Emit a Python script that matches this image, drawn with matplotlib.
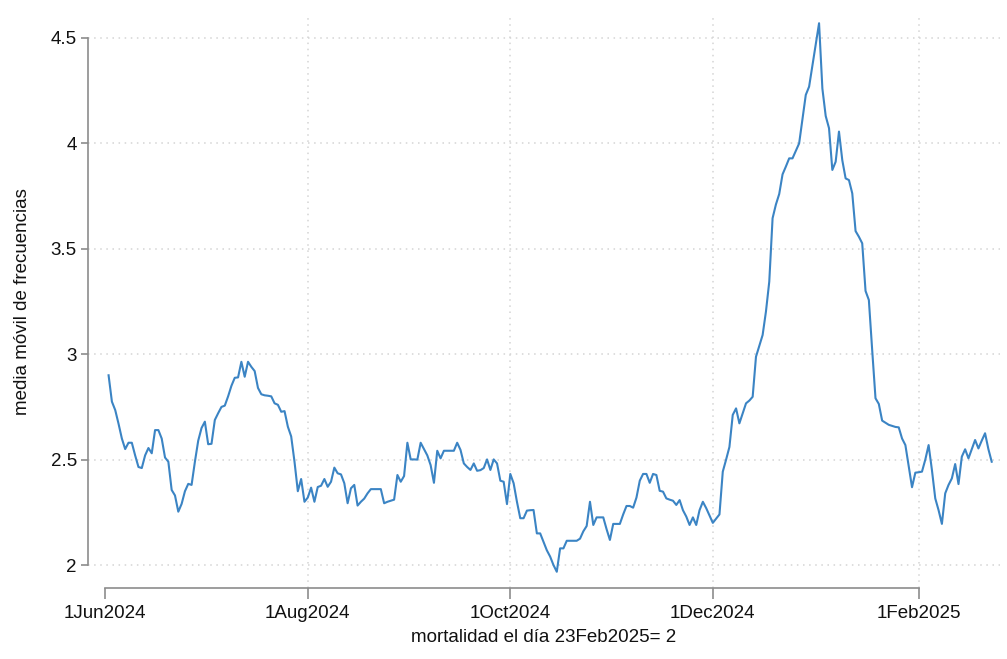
import matplotlib
matplotlib.use("Agg")
import matplotlib.pyplot as plt
import matplotlib.dates as mdates
import numpy as np
import pandas as pd

start_date = "2024-06-02"
end_date = "2025-02-23"

media_movil = [
    2.90, 2.775, 2.735, 2.67, 2.60, 2.55, 2.58, 2.58, 2.52, 2.465,
    2.46, 2.52, 2.555, 2.53, 2.64, 2.64, 2.60, 2.51, 2.49, 2.356,
    2.33, 2.253, 2.29, 2.35, 2.385, 2.38, 2.49, 2.59, 2.65, 2.68,
    2.573, 2.575, 2.688, 2.72, 2.75, 2.756, 2.80, 2.85, 2.888, 2.89,
    2.964, 2.893, 2.964, 2.94, 2.92, 2.84, 2.81, 2.805, 2.803, 2.80,
    2.767, 2.76, 2.727, 2.73, 2.656, 2.61, 2.49, 2.35, 2.408, 2.30,
    2.32, 2.367, 2.30, 2.37, 2.376, 2.408, 2.371, 2.395, 2.462, 2.435,
    2.43, 2.388, 2.293, 2.364, 2.38, 2.282, 2.30, 2.315, 2.34, 2.36,
    2.36, 2.36, 2.36, 2.293, 2.30, 2.305, 2.31, 2.427, 2.395, 2.422,
    2.58, 2.501, 2.501, 2.50, 2.58, 2.55, 2.52, 2.474, 2.39, 2.542,
    2.506, 2.542, 2.542, 2.542, 2.542, 2.58, 2.546, 2.482, 2.465, 2.451,
    2.482, 2.447, 2.45, 2.46, 2.501, 2.451, 2.501, 2.482, 2.40, 2.395,
    2.289, 2.432, 2.388, 2.30, 2.222, 2.222, 2.258, 2.26, 2.261, 2.15,
    2.15, 2.11, 2.07, 2.04, 2.00, 1.968, 2.079, 2.079, 2.115, 2.115,
    2.115, 2.115, 2.125, 2.16, 2.185, 2.30, 2.19, 2.226, 2.226, 2.226,
    2.17, 2.119, 2.195, 2.195, 2.195, 2.24, 2.28, 2.28, 2.272, 2.32,
    2.40, 2.432, 2.432, 2.39, 2.432, 2.427, 2.352, 2.348, 2.316, 2.31,
    2.305, 2.285, 2.308, 2.26, 2.23, 2.19, 2.226, 2.19, 2.26, 2.30,
    2.27, 2.235, 2.20, 2.22, 2.24, 2.443, 2.50, 2.56, 2.712, 2.743,
    2.672, 2.72, 2.767, 2.78, 2.798, 2.988, 3.04, 3.091, 3.202, 3.344,
    3.645, 3.71, 3.76, 3.853, 3.89, 3.929, 3.929, 3.965, 4.0, 4.115,
    4.23, 4.269, 4.37, 4.47, 4.57, 4.26, 4.13, 4.072, 3.874, 3.913,
    4.056, 3.92, 3.834, 3.826, 3.763, 3.584, 3.557, 3.526, 3.30, 3.257,
    3.02, 2.791, 2.764, 2.685, 2.675, 2.665, 2.66, 2.655, 2.653, 2.60,
    2.569, 2.47, 2.369, 2.438, 2.44, 2.443, 2.50, 2.569, 2.45, 2.316,
    2.26, 2.195, 2.34, 2.38, 2.411, 2.479, 2.384, 2.514, 2.549, 2.506,
    2.55, 2.593, 2.553, 2.59, 2.625, 2.55, 2.49,
]

x_ticks = ["2024-06-01", "2024-08-01", "2024-10-01", "2024-12-01", "2025-02-01"]
x_tick_labels = ["1Jun2024", "1Aug2024", "1Oct2024", "1Dec2024", "1Feb2025"]
y_ticks = [2, 2.5, 3, 3.5, 4, 4.5]
y_tick_labels = ["2", "2.5", "3", "3.5", "4", "4.5"]

y_label = "media móvil de frecuencias"
x_label = "mortalidad el día 23Feb2025= 2"

plt.rcParams["font.family"] = ["Liberation Sans", "DejaVu Sans"]

dates = pd.date_range(start_date, end_date, freq="D")
assert len(dates) == len(media_movil)

fig = plt.figure(figsize=(10.07, 6.59), dpi=100)
ax = fig.add_axes([88 / 1007, 1 - 588 / 659, (1000 - 88) / 1007, (588 - 15) / 659])

line_color = "#3b84c4"
axis_color = "#8c8c8c"
grid_color = "#d4d4d4"
grid_style = (0, (1, 3))

ax.plot(dates, media_movil, color=line_color, linewidth=1.5, zorder=3)

tick_dates = pd.to_datetime(x_ticks)
x0 = mdates.date2num(tick_dates[0])
ax.set_xlim(x0 - 5.2, x0 + 269.5)
ax.set_ylim(1.891, 4.609)

ax.set_xticks(tick_dates)
ax.set_xticklabels(x_tick_labels, fontsize=13.5)
ax.set_yticks(y_ticks)
ax.set_yticklabels(y_tick_labels, fontsize=13.5)

for s in ["top", "right"]:
    ax.spines[s].set_visible(False)
for s in ["left", "bottom"]:
    ax.spines[s].set_color(axis_color)
    ax.spines[s].set_linewidth(1.2)
ax.spines["left"].set_bounds(y_ticks[0], y_ticks[-1])
ax.spines["bottom"].set_bounds(mdates.date2num(tick_dates[0]), mdates.date2num(tick_dates[-1]))

ax.tick_params(axis="x", length=8, width=1.2, color=axis_color, pad=4, labelcolor="#111111")
ax.tick_params(axis="y", length=5, width=1.2, color=axis_color, pad=3, labelcolor="#111111")

# grid: horizontal at every y tick, vertical at every x tick except the first (axis minimum)
for yv in y_ticks:
    ax.axhline(yv, color=grid_color, linestyle=grid_style, linewidth=1.1, zorder=0)
for td in tick_dates[1:]:
    ax.axvline(td, color=grid_color, linestyle=grid_style, linewidth=1.1, zorder=0)

ax.set_ylabel(y_label, fontsize=13.5, color="#111111", labelpad=14)
ax.set_xlabel(x_label, fontsize=13.5, color="#111111", labelpad=5)

fig.savefig("out.png", dpi=100, facecolor="white")
